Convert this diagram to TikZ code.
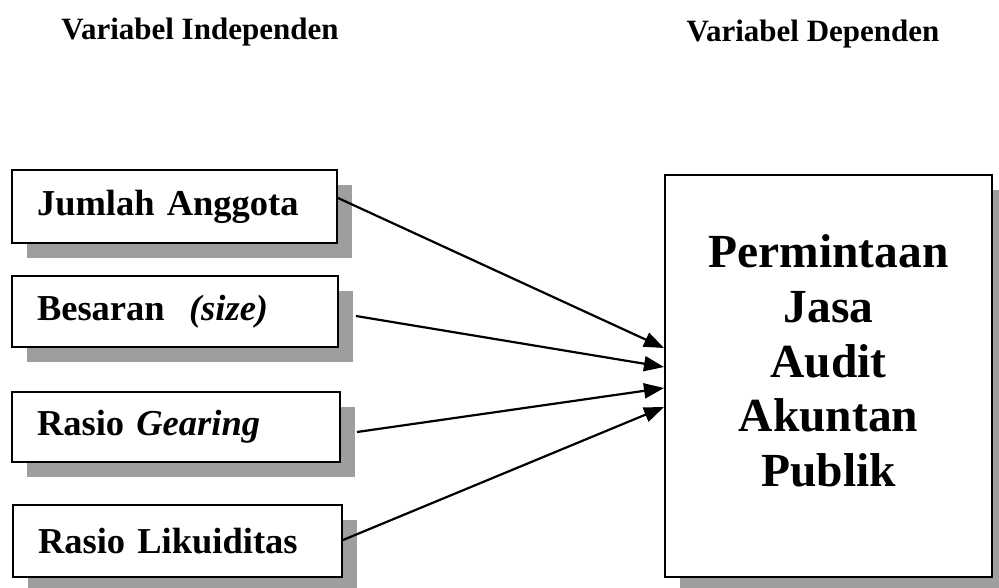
\documentclass[tikz,border=0pt]{standalone}
\usepackage{fontspec}
\setmainfont{Liberation Serif}
\usetikzlibrary{arrows.meta,shadows}
\tikzset{
  shadowed/.style={general shadow={shadow xshift=15pt, shadow yshift=-15pt, fill=black!38, draw=none}},
  varbox/.style={draw, line width=2pt, fill=white, shadowed, inner xsep=25pt, inner ysep=0pt,
    align=left, minimum height=72pt, font=\bfseries\fontsize{36.5}{40}\selectfont},
  depbox/.style={draw, line width=2pt, fill=white, shadowed, inner sep=0pt},
  deptext/.style={inner sep=0pt, align=center, font=\bfseries\fontsize{47.5}{54.75}\selectfont},
  hdr/.style={inner sep=0pt, font=\bfseries\fontsize{31}{36}\selectfont},
  arr/.style={line width=2.2pt, -{Triangle[length=20pt,width=15pt]}}
}
\begin{document}
\begin{tikzpicture}[x=1pt,y=1pt]
\useasboundingbox (0,0) rectangle (999,-588);
\node[hdr, anchor=base] (h1) at (200,-40) {Variabel Independen};
\node[hdr, anchor=base] (h2) at (813,-42) {Variabel Dependen};

\node[varbox, text width=275pt, minimum height=73pt] (b1) at (174.5,-206.5) {Jumlah Anggota};
\node[varbox, text width=276pt, minimum height=71pt] (b2) at (175,-311.5) {Besaran\ \ \textit{(size)}};
\node[varbox, text width=278pt, minimum height=70pt] (b3) at (176,-427) {Rasio \textit{Gearing}};
\node[varbox, text width=279pt, minimum height=72pt] (b4) at (177.5,-541) {Rasio Likuiditas};

\node[depbox, minimum width=327pt, minimum height=402pt] (R) at (828.5,-376) {};
\node[deptext] (dt) at (828.5,-361) {Permintaan\\Jasa\\Audit\\Akuntan\\Publik};

\draw[arr] ([yshift=8.5pt]b1.east) -- ([yshift=28pt]R.west);
\draw[arr] ([xshift=17pt,yshift=-4.5pt]b2.east) -- ([yshift=9pt]R.west);
\draw[arr] ([xshift=16pt,yshift=-5pt]b3.east) -- ([yshift=-12pt]R.west);
\draw[arr] ([yshift=1pt]b4.east) -- ([yshift=-31pt]R.west);
\end{tikzpicture}
\end{document}
